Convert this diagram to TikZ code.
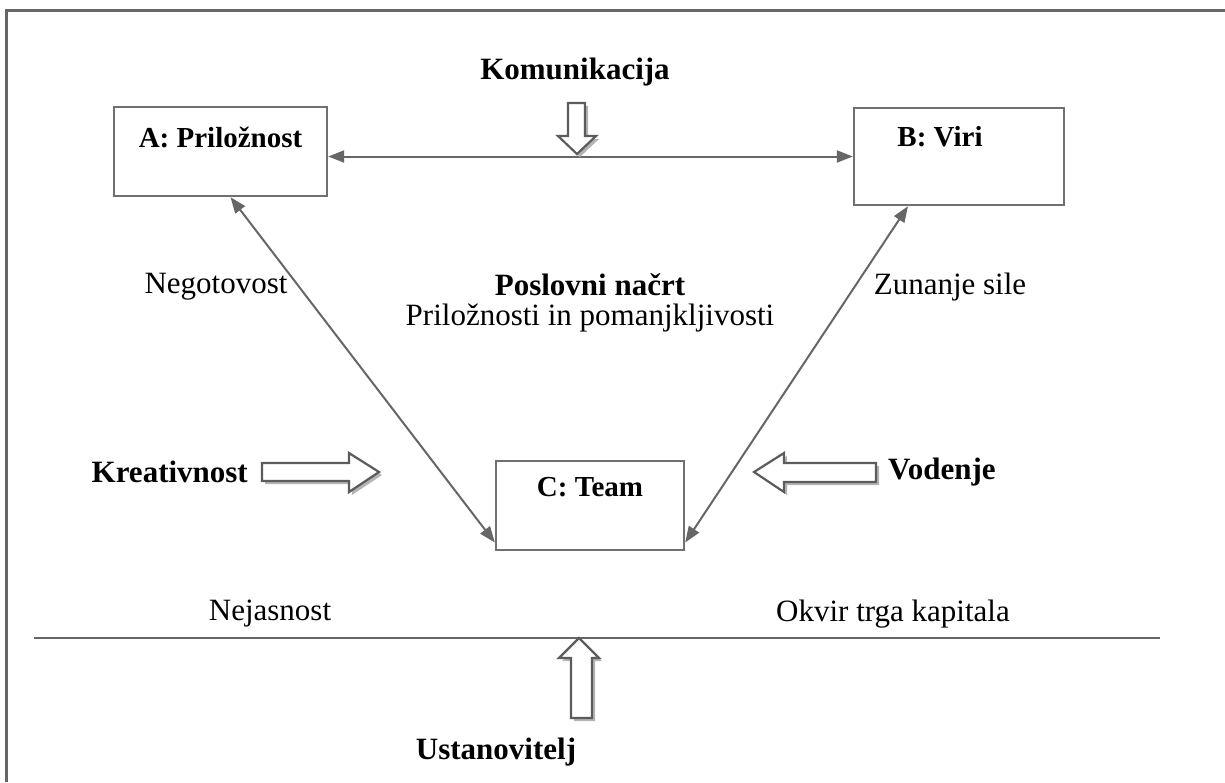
\documentclass[tikz,border=0pt]{standalone}
\usepackage{fontspec}
\setmainfont{Liberation Serif}
\usetikzlibrary{arrows.meta,shadows,calc}
\definecolor{linegray}{HTML}{666666}
\definecolor{boxgray}{HTML}{707070}
\definecolor{shadowgray}{HTML}{B4B4B4}
\begin{document}
\begin{tikzpicture}[x=1pt,y=-1pt,
  box/.style={draw=boxgray,line width=2.4pt,fill=white,inner sep=0pt},
  boxlabel/.style={font=\fontsize{29}{35}\selectfont\bfseries,inner sep=0pt},
  bodytext/.style={font=\fontsize{31}{37}\selectfont,inner sep=0pt},
  boldtext/.style={font=\fontsize{31}{37}\selectfont\bfseries,inner sep=0pt},
  link/.style={draw=linegray,line width=2pt,{Triangle[length=16pt,width=12pt]}-{Triangle[length=16pt,width=12pt]}},
  fatarrow/.style={draw=linegray!90!black,line width=2.2pt,fill=white,line join=miter,
    drop shadow={shadow xshift=3pt,shadow yshift=-3pt,fill=shadowgray,opacity=1}},
  frameline/.style={draw=linegray,line width=2.6pt}]
\useasboundingbox (0,0) rectangle (1225,782);

% frame (open at right and bottom)
\draw[frameline] (6.5,782) -- (6.5,10.5) -- (1225,10.5);

% the three boxes
\node[box,minimum width=213pt,minimum height=89pt] (A) at (220.5,151.5) {};
\node[box,minimum width=210pt,minimum height=97pt] (B) at (959,156.5) {};
\node[box,minimum width=188pt,minimum height=89pt] (C) at (590,505.5) {};
\node[boxlabel] (Alab) at (220.5,137) {A: Priložnost};
\node[boxlabel] (Blab) at (940,137) {B: Viri};
\node[boxlabel] (Clab) at (590,487) {C: Team};

% connectors between the boxes
\draw[link] (A.east |- B.west) -- (B.west);
\draw[link] ([xshift=10pt]A.south) -- ([yshift=-37pt]C.west);
\draw[link] ([xshift=-51pt]B.south) -- ([yshift=-37pt]C.east);

% capital market line
\coordinate (L1) at (34,638);
\coordinate (L2) at (1160,638);
\draw[draw=linegray,line width=2.2pt] (L1) -- (L2);

% block arrows
\path[fatarrow] (568,103) -- (585,103) -- (585,136) -- (596,136) -- (577,154)
  -- (558,136) -- (568,136) -- cycle;
\path[fatarrow] (571,718) -- (592,718) -- (592,658) -- (599,658) -- (579,638)
  -- (559,658) -- (571,658) -- cycle;
\path[fatarrow] (262,463) -- (349,463) -- (349,453) -- (379,472) -- (349,492)
  -- (349,481) -- (262,481) -- cycle;
\path[fatarrow] (876,463) -- (784,463) -- (784,453) -- (754,472) -- (784,492)
  -- (784,482) -- (876,482) -- cycle;

% texts
\node[boldtext] (kom) at (575,72) {Komunikacija};
\node[boldtext,anchor=east] (kre) at (248,472) {Kreativnost};
\node[boldtext,anchor=west] (vod) at (888,472) {Vodenje};
\node[boldtext] (ust) at (496,752) {Ustanovitelj};
\node[bodytext] (neg) at (216,287) {Negotovost};
\node[boldtext] (pn) at (590,285) {Poslovni načrt};
\node[bodytext] (pp) at (590,318) {Priložnosti in pomanjkljivosti};
\node[bodytext] (zs) at (950,287) {Zunanje sile};
\node[bodytext] (nej) at (270,614) {Nejasnost};
\node[bodytext] (okv) at (893,614) {Okvir trga kapitala};
\end{tikzpicture}
\end{document}
